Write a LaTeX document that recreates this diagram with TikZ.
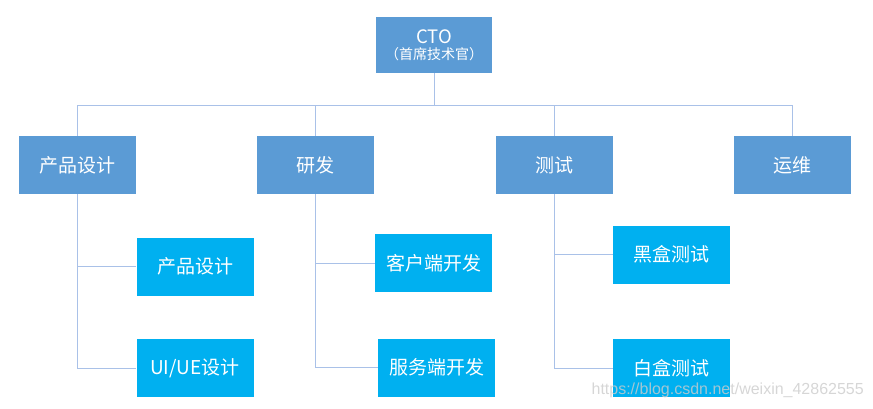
\documentclass[tikz,border=0pt]{standalone}
\usepackage{fontspec}
\newfontfamily\cjk{Noto Sans CJK SC}
\definecolor{headblue}{HTML}{5B9BD5}
\definecolor{subblue}{HTML}{00B0F0}
\definecolor{linkblue}{HTML}{A9C1E8}
\begin{document}
\begin{tikzpicture}[
        x=1pt, y=-1pt,
        headbox/.style={
            fill=headblue,
            text=white,
            inner sep=0pt,
            minimum width=117pt,
            minimum height=58pt,
            font=\cjk\fontsize{19}{22}\selectfont,
        },
        subbox/.style={
            headbox,
            fill=subblue,
        },
        link/.style={
            draw=linkblue,
            line width=1pt,
        },
    ]
    \useasboundingbox (0,0) rectangle (873,408);

    \node[headbox, minimum width=116pt, minimum height=56pt, align=center,
          font=\cjk] (cto) at (434,45)
        {{\fontsize{18.5}{20}\selectfont CTO}\\[3pt]{\fontsize{14}{16}\selectfont （首席技术官）}};

    \node[headbox] (prod) at (77.5,165) {产品设计};
    \node[headbox] (rd)   at (315.5,165) {研发};
    \node[headbox] (test) at (554,165) {测试};
    \node[headbox] (ops)  at (792.5,165) {运维};

    \node[subbox] (prodsub) at (195,266.5) {产品设计};
    \node[subbox] (uiue)    at (195,368) {UI/UE设计};
    \node[subbox] (client)  at (433.5,263) {客户端开发};
    \node[subbox] (server)  at (436.5,367.5) {服务端开发};
    \node[subbox] (black)   at (671.5,254.5) {黑盒测试};
    \node[subbox] (white)   at (671.5,368) {白盒测试};

    \coordinate (busL) at (78,105);
    \coordinate (busR) at (792.5,105);
    \draw[link] (busL) -- (busR);
    \draw[link] (cto) -- (cto |- busL);
    \foreach \n in {prod, rd, test, ops}
        \draw[link] (\n) -- (\n |- busL);

    \draw[link] (prod.south) |- (prodsub.west);
    \draw[link] (prod.south) |- (uiue.west);
    \draw[link] (rd.south) |- (client.west);
    \draw[link] (rd.south) |- (server.west);
    \draw[link] (test.south) |- (black.west);
    \draw[link] (test.south) |- (white.west);

    \node[text=gray!40, opacity=0.8, font=\fontspec{Liberation Sans}\fontsize{16}{18}\selectfont,
          anchor=east, inner sep=0pt] (mark) at (864,390)
        {https://blog.csdn.net/weixin\_42862555};
\end{tikzpicture}
\end{document}
